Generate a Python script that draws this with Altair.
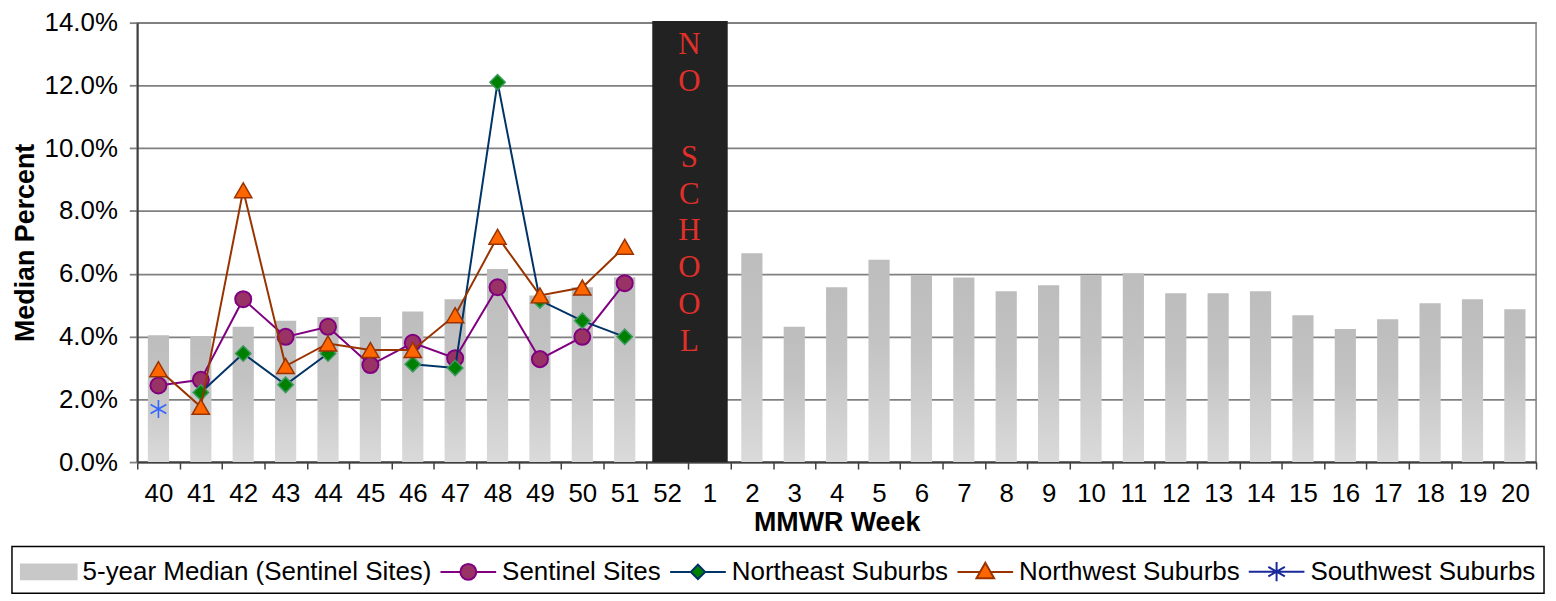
import altair as alt
import pandas as pd

# ---------------- data ----------------
weeks = ["40", "41", "42", "43", "44", "45", "46", "47", "48", "49", "50", "51",
         "52", "1", "2", "3", "4", "5", "6", "7", "8", "9", "10", "11", "12",
         "13", "14", "15", "16", "17", "18", "19", "20"]
median_5yr = [4.04, 3.99, 4.31, 4.50, 4.62, 4.62, 4.80, 5.19, 6.15, 5.31, 5.57, 5.89,
              None, None,
              6.65, 4.31, 5.57, 6.45, 5.95, 5.88, 5.44, 5.63, 5.95, 6.02, 5.38,
              5.38, 5.44, 4.68, 4.24, 4.55, 5.06, 5.19, 4.87]

series_weeks = ["40", "41", "42", "43", "44", "45", "46", "47", "48", "49", "50", "51"]
sentinel = [2.44, 2.62, 5.19, 3.99, 4.31, 3.09, 3.80, 3.31, 5.57, 3.28, 3.99, 5.70]
northeast = [None, 2.22, 3.46, 2.46, 3.46, None, 3.12, 3.00, 12.10, 5.15, 4.50, 3.99]
northwest = [2.96, 1.76, 8.66, 3.06, 3.78, 3.57, 3.57, 4.68, 7.18, 5.31, 5.56, 6.86]
southwest = [1.69, None, None, None, None, None, None, None, None, None, None, None]

no_school_weeks = ["52", "1"]
no_school_word1 = "N\nO"
no_school_word2 = "S\nC\nH\nO\nO\nL"

y_ticks = [0, 2, 4, 6, 8, 10, 12, 14]

legend_names = ["5-year Median (Sentinel Sites)", "Sentinel Sites",
                "Northeast Suburbs", "Northwest Suburbs", "Southwest Suburbs"]

# ---------------- tables ----------------
bars_df = pd.DataFrame({"week": weeks, "median": median_5yr})
series_df = pd.concat([
    pd.DataFrame({"week": series_weeks, "value": vals, "series": name})
    for name, vals in [("Sentinel Sites", sentinel), ("Northeast Suburbs", northeast),
                       ("Northwest Suburbs", northwest), ("Southwest Suburbs", southwest)]
], ignore_index=True)
block_df = pd.DataFrame({"week": [no_school_weeks[0]], "week_end": [no_school_weeks[1]],
                         "top": [14.05], "bottom": [0.0]})
text1_df = pd.DataFrame({"week": [no_school_weeks[1]], "top": [14.0], "label": [no_school_word1]})
text2_df = pd.DataFrame({"week": [no_school_weeks[1]], "top": [14.0], "label": [no_school_word2]})
legend_df = pd.DataFrame({"legend": legend_names})

FONT = "Liberation Sans"

x_scale = alt.Scale(domain=weeks, paddingInner=0, paddingOuter=0)
y_scale = alt.Scale(domain=[0, 14], nice=False)
x_axis = alt.Axis(title="MMWR Week", labelAngle=0, tickBand="extent", tickSize=7,
                  tickColor="#404040", tickWidth=1.5, domainColor="#404040", domainWidth=2,
                  grid=False, labelFontSize=26, labelFont=FONT, labelColor="black",
                  titleFontSize=27, titleFont=FONT, titleFontWeight="bold", titleColor="black",
                  labelPadding=12, titlePadding=3)
y_axis = alt.Axis(title="Median Percent", values=y_ticks,
                  labelExpr="format(datum.value, '.1f') + '%'",
                  tickSize=8, tickColor="#808080", tickWidth=1.8,
                  gridColor="#808080", gridWidth=1.8, gridOpacity=1,
                  domainColor="#404040", domainWidth=2,
                  labelFontSize=26, labelFont=FONT, labelColor="black", labelPadding=12,
                  titleFontSize=27, titleFont=FONT, titleFontWeight="bold", titleColor="black",
                  titlePadding=5)


def xenc(field, band_pos=None):
    if band_pos is None:
        return alt.X(f"{field}:N", scale=x_scale, axis=x_axis, title="MMWR Week")
    return alt.X(f"{field}:N", scale=x_scale, axis=x_axis, title="MMWR Week", bandPosition=band_pos)


def yenc(field):
    return alt.Y(f"{field}:Q", scale=y_scale, axis=y_axis, title="Median Percent")


# ---------------- layers ----------------
bar_gradient = alt.Gradient(
    gradient="linear",
    stops=[alt.GradientStop(offset=0, color="#bdbdbd"),
           alt.GradientStop(offset=0.4, color="#c3c3c3"),
           alt.GradientStop(offset=1, color="#dadada")],
    x1=0, x2=0, y1=0, y2=1)

bars = alt.Chart(bars_df).mark_bar(
    color=bar_gradient, width=alt.RelativeBandSize(0.5)
).encode(x=xenc("week"), y=yenc("median"))

block = alt.Chart(block_df).mark_rect(color="#222222").encode(
    x=xenc("week", 0.15),
    x2=alt.X2("week_end:N", bandPosition=0.93),
    y=yenc("top"),
    y2=alt.Y2("bottom:Q"),
)

text_style = dict(align="center", baseline="top", font="Liberation Serif", fontSize=31,
                  color="#e0302a", lineHeight=37, lineBreak="\n", dx=1)
block_text1 = alt.Chart(text1_df).mark_text(dy=8, **text_style).encode(
    x=xenc("week", 0.0), y=yenc("top"), text="label:N")
block_text2 = alt.Chart(text2_df).mark_text(dy=121, **text_style).encode(
    x=xenc("week", 0.0), y=yenc("top"), text="label:N")

styles = {
    "Sentinel Sites": dict(line="#800080", shape="circle", fill="#993366", stroke="#800080", size=260, sw=2),
    "Northeast Suburbs": dict(line="#003366", shape="diamond", fill="#008000", stroke="#3c9a5f", size=240, sw=1.5),
    "Northwest Suburbs": dict(line="#993300", shape="triangle-up", fill="#FF6600", stroke="#993300", size=300, sw=1.5),
    "Southwest Suburbs": dict(line="#000080",
                              shape="M0,-1L0,1M-0.87,-0.5L0.87,0.5M-0.87,0.5L0.87,-0.5",
                              fill="transparent", stroke="#3366FF", size=330, sw=1.6),
}

series_layers = []
for name in ["Sentinel Sites", "Northeast Suburbs", "Northwest Suburbs", "Southwest Suburbs"]:
    st = styles[name]
    base = alt.Chart(series_df).transform_filter(alt.datum.series == name)
    if name != "Southwest Suburbs":
        series_layers.append(
            base.mark_line(color=st["line"], strokeWidth=2, invalid="break-paths-show-domains")
            .encode(x=xenc("week"), y=yenc("value"))
        )
    series_layers.append(
        base.transform_filter("isValid(datum.value)")
        .mark_point(shape=st["shape"], fill=st["fill"], stroke=st["stroke"], filled=True,
                    size=st["size"], strokeWidth=st["sw"], opacity=1)
        .encode(x=xenc("week"), y=yenc("value"))
    )

# legend-only layer (custom symbols = line + marker)
legend_shapes = [
    "M-1,-0.47L2.5,-0.47L2.5,0.47L-1,0.47Z",
    "M-1,0L0.25,0M1.25,0L2.5,0M0.25,0A0.5,0.5,0,1,0,1.25,0A0.5,0.5,0,1,0,0.25,0Z",
    "M-1,0L0.3,0M1.2,0L2.5,0M0.75,-0.45L1.2,0L0.75,0.45L0.3,0Z",
    "M-1,0L0.432,0M1.068,0L2.5,0M0.75,-0.58L1.305,0.4L0.195,0.4Z",
    "M-1,0L2.5,0M0.75,-0.6L0.75,0.6M0.23,-0.3L1.27,0.3M0.23,0.3L1.27,-0.3",
]
legend_fills = ["#c8c8c8", "#993366", "#008000", "#FF6600", "transparent"]
legend_strokes = ["#c8c8c8", "#800080", "#003366", "#993300", "#1a2a9a"]

leg = alt.Legend(orient="none", legendX=-126, legendY=527, direction="horizontal",
                 title=None, labelFontSize=26.1, labelFont=FONT, labelColor="black",
                 symbolSize=1024, symbolStrokeWidth=2, labelOffset=29, columnPadding=5,
                 padding=8, strokeColor="black", fillColor="white", labelLimit=600,
                 symbolOpacity=1)

legend_layer = alt.Chart(legend_df).transform_filter("false").mark_point(
    opacity=1, strokeWidth=2, filled=True
).encode(
    fill=alt.Fill("legend:N", scale=alt.Scale(domain=legend_names, range=legend_fills), legend=leg),
    stroke=alt.Stroke("legend:N", scale=alt.Scale(domain=legend_names, range=legend_strokes), legend=leg),
    shape=alt.Shape("legend:N", scale=alt.Scale(domain=legend_names, range=legend_shapes), legend=leg),
)

chart = alt.layer(bars, block, block_text1, block_text2, *series_layers, legend_layer).properties(
    width=1407, height=442,
    autosize=alt.AutoSizeParams(type="none"),
    padding={"left": 130, "top": 13, "right": 12, "bottom": 140},
    background="white",
).configure_view(stroke="#808080", strokeWidth=1.5).configure_legend(strokeWidth=1.5)

chart.save("out.html", embed_options={"renderer": "svg", "actions": False})
